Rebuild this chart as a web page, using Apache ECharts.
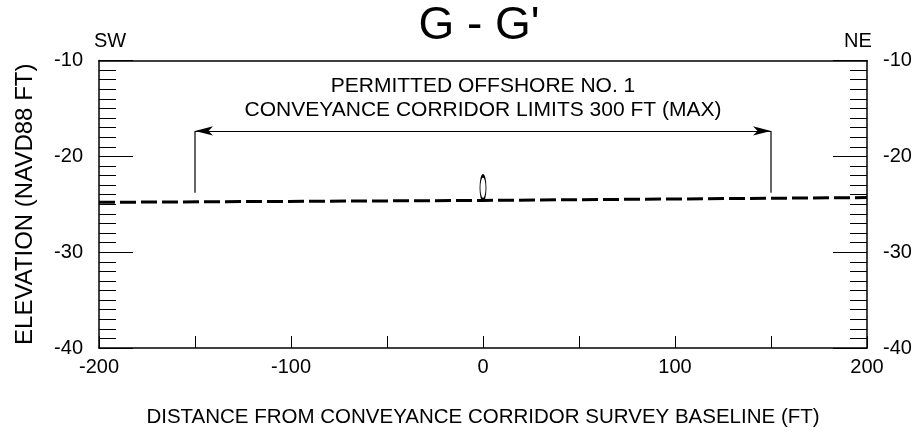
<!DOCTYPE html>
<html><head><meta charset="utf-8">
<script src="https://cdn.jsdelivr.net/npm/echarts@6/dist/echarts.min.js"></script>
<style>html,body{margin:0;padding:0;background:#fff}#c{width:916px;height:433px}</style>
</head><body><div id="c"></div>
<script>
const surfaceX = [-200, 0, 200];
const surfaceY = [-24.8, -24.6, -24.3];
const corridorLimits = [-150, 150];
const corridorArrowElev = -17.35;
const corridorLineBottom = -23.8;
const pipeX = 0, pipeElev = -23.28;
const xTickLabels = [-200, -100, 0, 100, 200];
const yTickLabels = [-10, -20, -30, -40];

const FONT = '"Liberation Sans", Arial, sans-serif';
const chart = echarts.init(document.getElementById('c'), null, {renderer: 'canvas'});
const black = '#000';
const surfaceData = surfaceX.map((x, i) => [x, surfaceY[i]]);

const yAxisCommon = {
  type: 'value', min: -40, max: -10, interval: 10,
  axisLine: {show: true, onZero: false, lineStyle: {color: black, width: 1.5}},
  axisTick: {inside: true, length: 34, lineStyle: {color: black}},
  minorTick: {show: true, splitNumber: 10, length: 17, lineStyle: {color: black}},
  axisLabel: {fontFamily: FONT, fontSize: 20, color: black, margin: 16,
    formatter: v => yTickLabels.includes(v) ? String(v) : ''},
  splitLine: {show: false}
};

function txt(text, x, y, size) {
  return {type: 'text', x: x, y: y, silent: true,
    style: {text: text, font: size + 'px ' + FONT, fill: black, align: 'center', verticalAlign: 'middle'}};
}

chart.setOption({
  animation: false,
  backgroundColor: '#fff',
  grid: {left: 99, right: 49, top: 60.5, bottom: 84.5},
  xAxis: [{
    type: 'value', min: -200, max: 200, interval: 50, position: 'bottom',
    name: 'DISTANCE FROM CONVEYANCE CORRIDOR SURVEY BASELINE (FT)',
    nameLocation: 'middle', nameGap: 59,
    nameTextStyle: {fontFamily: FONT, fontSize: 20.5, color: black},
    axisLine: {onZero: false, lineStyle: {color: black, width: 1.5}},
    axisTick: {inside: true, length: 12, lineStyle: {color: black}},
    axisLabel: {fontFamily: FONT, fontSize: 20, color: black, margin: 9,
      formatter: v => xTickLabels.includes(v) ? String(v) : ''},
    splitLine: {show: false}
  }, {
    type: 'value', min: -200, max: 200, position: 'top',
    axisLine: {show: true, onZero: false, lineStyle: {color: black, width: 1.5}},
    axisTick: {show: false}, axisLabel: {show: false}, splitLine: {show: false}
  }],
  yAxis: [Object.assign({}, yAxisCommon, {
    position: 'left',
    name: 'ELEVATION (NAVD88 FT)', nameLocation: 'middle', nameGap: 62,
    nameTextStyle: {fontFamily: FONT, fontSize: 24, color: black}
  }), Object.assign({}, yAxisCommon, {position: 'right'})],
  graphic: [
    txt("G - G'", 479, 26, 46),
    txt('SW', 110, 41, 20),
    txt('NE', 858, 41, 20),
    txt('PERMITTED OFFSHORE NO. 1', 483, 86, 21),
    txt('CONVEYANCE CORRIDOR LIMITS 300 FT (MAX)', 483, 110, 21)
  ],
  series: [
    {
      type: 'line', data: surfaceData, symbol: 'none',
      lineStyle: {color: black, width: 3, type: [16, 5]}
    },
    {
      type: 'line', data: [[corridorLimits[0], corridorArrowElev], [corridorLimits[0], corridorLineBottom]],
      symbol: 'none', lineStyle: {color: black, width: 1.2}
    },
    {
      type: 'line', data: [[corridorLimits[1], corridorArrowElev], [corridorLimits[1], corridorLineBottom]],
      symbol: 'none', lineStyle: {color: black, width: 1.2},
      markLine: {
        silent: true, symbol: ['arrow', 'arrow'], symbolSize: [7, 18],
        label: {show: false},
        lineStyle: {color: black, width: 1.2, type: 'solid'},
        data: [[{coord: [corridorLimits[0], corridorArrowElev]}, {coord: [corridorLimits[1], corridorArrowElev]}]]
      }
    },
    {
      type: 'scatter', data: [[pipeX, pipeElev]], symbol: 'circle', symbolSize: [6, 24],
      itemStyle: {color: '#fff', borderColor: black, borderWidth: 1.8, opacity: 1}
    }
  ]
});
</script></body></html>
